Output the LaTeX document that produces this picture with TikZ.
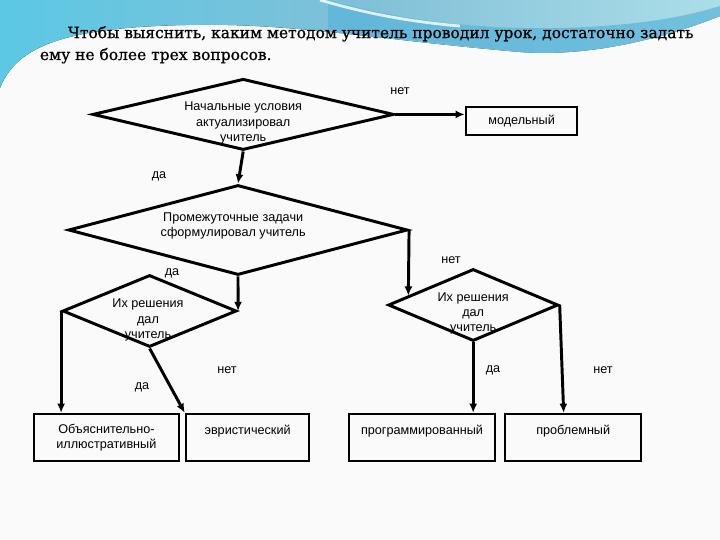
\documentclass[tikz,border=0pt]{standalone}
\usepackage{fontspec}
\setmainfont{Liberation Sans}
\newfontfamily\headfont[FakeBold=0.8]{DejaVu Serif}
\definecolor{slidebg}{RGB}{250,250,250}
\definecolor{swooshcyan}{RGB}{92,200,228}
\definecolor{swooshmid}{RGB}{128,192,216}
\definecolor{swooshpale}{RGB}{172,222,232}
\definecolor{swooshdeep}{RGB}{88,180,218}
\usetikzlibrary{shapes.geometric, arrows.meta, positioning, calc}

\begin{document}
\begin{tikzpicture}[
    cond/.style={draw, diamond, line width=2.1pt, inner sep=0pt},
    condtext/.style={align=center, font=\fontsize{9}{10.7}\selectfont},
    method/.style={draw, rectangle, line width=1.8pt, inner sep=0pt, align=center,
                   minimum height=1.175cm, font=\fontsize{9}{10.7}\selectfont},
    ans/.style={font=\fontsize{9}{10.7}\selectfont},
    conn/.style={-{Latex[length=2.3mm,width=2mm]}, line width=2.1pt}
]
    % Slide background
    \useasboundingbox (0,0) rectangle (18,13.5);
    \fill[slidebg] (0,0) rectangle (18,13.5);
    \fill[left color=swooshcyan, right color=swooshpale, middle color=swooshmid]
        (0,13.5) -- (18,13.5) -- (18,13.1)
        .. controls (17,12.7) and (15,12.05) .. (13,12.2)
        .. controls (9.5,12.5) and (7.5,12.9) .. (5,12.88)
        .. controls (1.5,12.85) and (0.4,12.3) .. (0,11.3) -- cycle;
    \fill[swooshdeep, opacity=0.7]
        (8.2,13.5) .. controls (10,13.0) and (12,12.75) .. (14,12.8)
        .. controls (16,12.85) and (17.2,13.1) .. (18,13.35) -- (18,13.1)
        .. controls (17,12.7) and (15,12.05) .. (13,12.2)
        .. controls (11,12.4) and (9.5,12.6) .. (8.2,12.7) -- cycle;
    \draw[white, line width=2pt, opacity=0.8]
        (8.0,13.5) .. controls (9.2,13.15) and (10.3,12.95) .. (11.5,12.85);

    % Question
    \node[anchor=base west, align=left, font=\headfont\fontsize{11}{15.6}\selectfont]
        (quest) at (0.875,12.0)
        {\hspace*{0.7cm}Чтобы выяснить, каким методом учитель проводил урок, достаточно задать\\
         ему не более трех вопросов.};

    % Conditions
    \node[cond, minimum width=7.53cm, minimum height=1.78cm] (d1) at (6.08,10.64) {};
    \node[condtext] (d1t) at (6.08,10.425) {Начальные условия\\актуализировал\\учитель};
    \node[cond, minimum width=8.48cm, minimum height=2.25cm] (d2) at (5.95,7.75) {};
    \node[condtext] (d2t) at (5.83,7.84) {Промежуточные задачи\\сформулировал учитель};
    \node[cond, minimum width=4.35cm, minimum height=1.8cm] (d4) at (3.74,5.725) {};
    \node[condtext] (d4t) at (3.7,5.5) {Их решения\\дал\\учитель};
    \node[cond, minimum width=4.25cm, minimum height=1.8cm] (d3) at (11.83,5.875) {};
    \node[condtext] (d3t) at (11.83,5.66) {Их решения\\дал\\учитель};

    % Methods
    \node[method, minimum width=2.78cm, minimum height=0.7cm] (mod) at (13.04,10.475) {модельный};
    \node[method, minimum width=3.63cm] (b1) at (2.66,2.56) {Объяснительно-\\иллюстративный};
    \node[method, minimum width=3.08cm] (b2) at (6.19,2.56) {эвристический\\\mbox{}};
    \node[method, minimum width=3.65cm] (b3) at (10.55,2.56) {программированный\\\mbox{}};
    \node[method, minimum width=3.4cm] (b4) at (14.33,2.56) {проблемный\\\mbox{}};

    % Connectors
    \draw[conn] (d1.east) -- (d1.east -| mod.west);
    \draw[conn] (d1.south) -- (d2.north);
    \draw[conn] (d2.east) -- ($(d3.west)!0.25!(d3.north)$);
    \draw[conn] (d2.south) -- (d4.east);
    \draw[conn] (d4.west) -- (d4.west |- b1.north);
    \draw[conn] (d4.south) -- (b2.north west);
    \draw[conn] (d3.south) -- (d3.south |- b3.north);
    \draw[conn] (d3.east) -- ($(d3.east |- b4.north)+(0.1,0)$);

    % Answers
    \node[ans] (n1) at (10.0,11.225) {нет};
    \node[ans] (y1) at (3.975,9.1) {да};
    \node[ans] (y2) at (4.3,6.675) {да};
    \node[ans] (n2) at (11.275,7.0) {нет};
    \node[ans] (n3) at (5.675,4.25) {нет};
    \node[ans] (y3) at (3.55,3.825) {да};
    \node[ans] (y4) at (12.325,4.25) {да};
    \node[ans] (n4) at (15.075,4.25) {нет};
\end{tikzpicture}
\end{document}
